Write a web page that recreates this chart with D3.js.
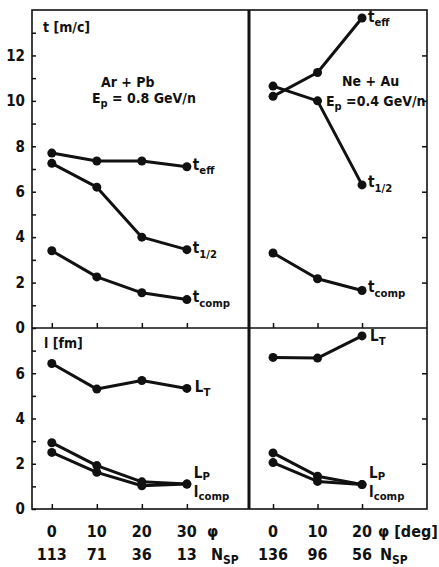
<!DOCTYPE html>
<html>
<head>
<meta charset="utf-8">
<script src="https://cdn.jsdelivr.net/npm/d3@7"></script>
<style>
  body { margin: 0; background: #fff; }
  svg text { font-family: "DejaVu Sans Condensed", "Liberation Sans Narrow", "DejaVu Sans", sans-serif; font-weight: bold; fill: #111; }
</style>
</head>
<body>
<svg id="chart" width="439" height="567"></svg>
<script>
// phi angles and spectator numbers
var phiLeft = [0, 10, 20, 30]
var nspLeft = [113, 71, 36, 13]
var phiRight = [0, 10, 20]
var nspRight = [136, 96, 56]

// times t [m/c]
var tEffLeft = [7.7, 7.35, 7.35, 7.1]
var tHalfLeft = [7.25, 6.2, 4.0, 3.45]
var tCompLeft = [3.4, 2.25, 1.55, 1.25]
var tEffRight = [10.2, 11.25, 13.65]
var tHalfRight = [10.65, 10.0, 6.3]
var tCompRight = [3.3, 2.17, 1.65]

// lengths l [fm]
var lTLeft = [6.43, 5.3, 5.68, 5.33]
var lPLeft = [2.93, 1.92, 1.2, 1.1]
var lCompLeft = [2.5, 1.62, 1.03, 1.1]
var lTRight = [6.7, 6.67, 7.65]
var lPRight = [2.48, 1.45, 1.08]
var lCompRight = [2.05, 1.22, 1.08]

var tTicks = d3.range(0, 14)
var lTicks = d3.range(0, 8)

var svg = d3.select("#chart")

var xL = d3.scaleLinear().domain([-4.4, 43.8]).range([32, 249])
var xR = d3.scaleLinear().domain([-5.4, 34.6]).range([249, 427])
var yT = d3.scaleLinear().domain([0, 14]).range([328, 10])
var yB = d3.scaleLinear().domain([0, 8]).range([509, 328])

// axes (ticks pointing inward)
function evenOnly(d) { return d % 2 == 0 ? d : "" }

svg.append("g").attr("transform", "translate(32,0)")
  .call(d3.axisLeft(yT).tickValues(tTicks).tickSize(-4).tickPadding(7).tickFormat(evenOnly))
svg.append("g").attr("transform", "translate(32,0)")
  .call(d3.axisLeft(yB).tickValues(lTicks).tickSize(-4).tickPadding(7).tickFormat(evenOnly))
svg.append("g").attr("transform", "translate(427,0)")
  .call(d3.axisRight(yT).tickValues([2, 4, 6, 8, 10, 12]).tickSize(-5).tickFormat(""))
svg.append("g").attr("transform", "translate(427,0)")
  .call(d3.axisRight(yB).tickValues([2, 4, 6]).tickSize(-5).tickFormat(""))
svg.append("g").attr("transform", "translate(0,328)")
  .call(d3.axisBottom(xL).tickValues(phiLeft).tickSize(-5).tickFormat(""))
svg.append("g").attr("transform", "translate(0,328)")
  .call(d3.axisBottom(xR).tickValues(phiRight).tickSize(-5).tickFormat(""))
svg.append("g").attr("transform", "translate(0,509)")
  .call(d3.axisBottom(xL).tickValues(phiLeft).tickSize(-5).tickFormat(""))
svg.append("g").attr("transform", "translate(0,509)")
  .call(d3.axisBottom(xR).tickValues(phiRight).tickSize(-5).tickFormat(""))

svg.selectAll(".domain").remove()
svg.selectAll(".tick line").attr("stroke", "#111").attr("stroke-width", 1.5)
svg.selectAll(".tick text").attr("font-size", "15px").style("fill", "#111")

// frame
svg.append("rect").attr("x", 32).attr("y", 10).attr("width", 395).attr("height", 499)
  .attr("fill", "none").attr("stroke", "#111").attr("stroke-width", 1.6)
svg.append("line").attr("x1", 32).attr("x2", 427).attr("y1", 328).attr("y2", 328)
  .attr("stroke", "#111").attr("stroke-width", 1.6)
svg.append("line").attr("x1", 249).attr("x2", 249).attr("y1", 10).attr("y2", 509)
  .attr("stroke", "#111").attr("stroke-width", 3)

// series
function drawSeries(xs, ys, phis, vals) {
  var pts = phis.map(function(p, i){ return [p, vals[i]] })
  var line = d3.line().x(function(d){ return xs(d[0]) }).y(function(d){ return ys(d[1]) })
  svg.append("path").datum(pts).attr("d", line)
    .attr("fill", "none").attr("stroke", "#111").attr("stroke-width", 3).attr("stroke-linejoin", "round")
  svg.append("g").selectAll("circle").data(pts).enter().append("circle")
    .attr("cx", function(d){ return xs(d[0]) })
    .attr("cy", function(d){ return ys(d[1]) })
    .attr("r", 4.5).attr("fill", "#111")
}

drawSeries(xL, yT, phiLeft, tEffLeft)
drawSeries(xL, yT, phiLeft, tHalfLeft)
drawSeries(xL, yT, phiLeft, tCompLeft)
drawSeries(xR, yT, phiRight, tEffRight)
drawSeries(xR, yT, phiRight, tHalfRight)
drawSeries(xR, yT, phiRight, tCompRight)
drawSeries(xL, yB, phiLeft, lTLeft)
drawSeries(xL, yB, phiLeft, lPLeft)
drawSeries(xL, yB, phiLeft, lCompLeft)
drawSeries(xR, yB, phiRight, lTRight)
drawSeries(xR, yB, phiRight, lPRight)
drawSeries(xR, yB, phiRight, lCompRight)

// labels with optional subscript
function label(x, y, main, sub, size, subDy) {
  var t = svg.append("text").attr("x", x).attr("y", y).attr("font-size", size + "px")
  t.append("tspan").text(main)
  if (sub) {
    t.append("tspan").attr("dy", subDy || 5).attr("font-size", (size * 0.75) + "px").text(sub)
  }
  return t
}

label(43, 32, "t [m/c]", null, 14)
label(44, 348, "l [fm]", null, 14)

label(101, 87, "Ar + Pb", null, 14)
var ep1 = svg.append("text").attr("x", 92).attr("y", 103).attr("font-size", "14px")
ep1.append("tspan").text("E")
ep1.append("tspan").attr("dy", 4).attr("font-size", "11px").text("p")
ep1.append("tspan").attr("dy", -4).text(" = 0.8 GeV/n")

label(342, 86, "Ne + Au", null, 14)
var ep2 = svg.append("text").attr("x", 326).attr("y", 106).attr("font-size", "14px")
ep2.append("tspan").text("E")
ep2.append("tspan").attr("dy", 4).attr("font-size", "11px").text("p")
ep2.append("tspan").attr("dy", -4).text(" =0.4 GeV/n")

// series names: left
label(xL(30) + 6, yT(tEffLeft[3]) + 3, "t", "eff", 15, 4)
label(xL(30) + 6, yT(tHalfLeft[3]) + 3, "t", "1/2", 15, 5)
label(xL(30) + 6, yT(tCompLeft[3]) + 2, "t", "comp", 15, 5)
label(xL(30) + 8, yB(lTLeft[3]) + 4, "L", "T", 15, 4)
label(xL(30) + 7, yB(lPLeft[3]) - 6, "L", "P", 15, 2)
label(xL(30) + 7, yB(lCompLeft[3]) + 13, "l", "comp", 15, 3)

// series names: right
label(xR(20) + 6, yT(tEffRight[2]) + 4, "t", "eff", 15, 4)
label(xR(20) + 6, yT(tHalfRight[2]) + 2, "t", "1/2", 15, 5)
label(xR(20) + 6, yT(tCompRight[2]) + 1, "t", "comp", 15, 5)
label(xR(20) + 8, yB(lTRight[2]) + 5, "L", "T", 15, 4)
label(xR(20) + 7, yB(lPRight[2]) - 7, "L", "P", 15, 2)
label(xR(20) + 7, yB(lCompRight[2]) + 12, "l", "comp", 15, 3)

// x tick labels
function xLabels(xs, phis, nsps) {
  svg.append("g").selectAll("text").data(phis).enter().append("text")
    .attr("x", function(d){ return xs(d) }).attr("y", 537)
    .attr("text-anchor", "middle").attr("font-size", "16px")
    .text(function(d){ return d })
  svg.append("g").selectAll("text").data(nsps).enter().append("text")
    .attr("x", function(d, i){ return xs(phis[i]) }).attr("y", 560)
    .attr("text-anchor", "middle").attr("font-size", "16px")
    .text(function(d){ return d })
}
xLabels(xL, phiLeft, nspLeft)
xLabels(xR, phiRight, nspRight)

label(207, 537, "φ", null, 16)
label(378, 537, "φ [deg]", null, 16)
label(211, 560, "N", "SP", 16, 4)
label(380, 560, "N", "SP", 16, 4)
</script>
</body>
</html>
